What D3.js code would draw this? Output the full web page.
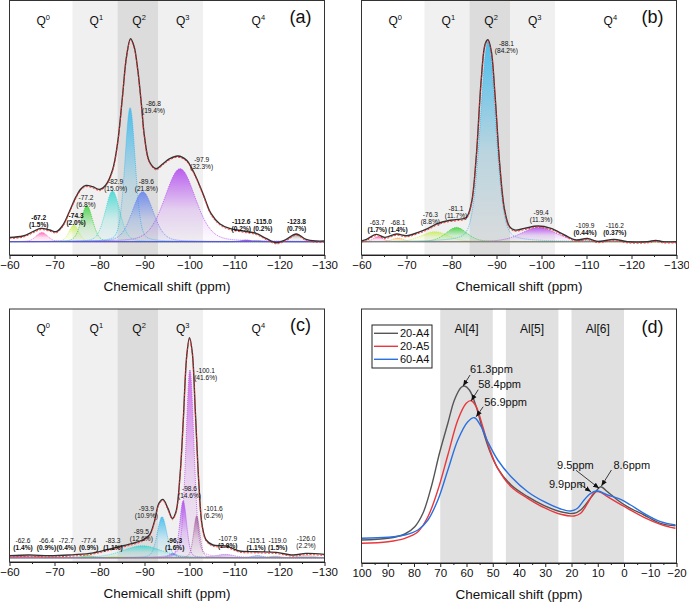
<!DOCTYPE html>
<html><head><meta charset="utf-8">
<script src="https://cdn.jsdelivr.net/npm/d3@7"></script>
<style>body{margin:0;background:#fff}svg{display:block}</style>
</head><body><svg id="c" width="689" height="603"></svg>
<script>
// ---------------- DATA ----------------
const qNames = ["0","1","2","3","4"];
const qCenters = [-67.5,-79.3,-88.8,-98.5,-115.3];
const qBandFrom = [-74,-84,-93];
const qBandTo = [-84,-93,-103];
const nmrMajorTicks = [-60,-70,-80,-90,-100,-110,-120,-130];
const nmrMinorTicks = [-65,-75,-85,-95,-105,-115,-125];

// panel (a)
const aShift = [-60,-63,-65.2,-67,-68.9,-70.4,-71.9,-73.3,-74.8,-75.9,-77,-78.5,-80,-81.4,-82.9,-84,-85.1,-86,-86.9,-87.7,-88.5,-89.3,-90,-91.1,-92.6,-94.1,-95.6,-97.4,-99.3,-101.1,-103,-104.8,-106.7,-108.9,-111.9,-114.8,-117,-119.3,-121.5,-123.7,-125.9,-128.1,-130];
const aInt = [4.3,5.7,10,13.3,11.7,10,16.7,30,45,53,56.3,55,52.3,56.7,71.7,98,145,185,203,195,172,138,105,80,73,78,83,85.7,81.7,68,48,28,18,13.3,10.7,8.3,3.3,-1,2.3,7.7,2.3,0.7,0.7];
const aPeakShift = [-67.2,-74.3,-77.2,-82.9,-86.8,-89.6,-97.9,-112.6,-115.0,-123.8];
const aPeakHeight = [9.3,16.7,36,50.7,134,50,73,1.7,1.3,7.7];
const aPeakFwhm = [3,2.5,3,3.8,2.7,5.5,8,2.5,2.5,3];
const aPeakPct = ["1.5%","2.0%","6.8%","15.0%","19.4%","21.8%","32.3%","0.2%","0.2%","0.7%"];

// panel (b)
const bShift = [-60,-61.1,-63.3,-65.2,-67.8,-70,-72.6,-74.8,-77,-79.2,-81.4,-83.3,-84.4,-85.5,-86.6,-87.5,-88.1,-88.8,-89.7,-90.7,-91.8,-92.9,-94,-96.2,-99.2,-102.1,-105.1,-107.7,-110.2,-112.4,-116.1,-119.1,-123.5,-125.4,-127,-130];
const bInt = [0.7,2.3,7.3,4.3,7.7,6,9.3,13.3,18.3,21,22.3,24.3,38,85,161.7,198,202,191.7,145,78.3,31.7,15,11.7,13.3,15.7,13.3,6.7,1.7,3.3,0.3,2.3,0,0,1.3,0,0];
const bPeakShift = [-63.7,-68.1,-76.3,-81.1,-88.1,-99.4,-109.9,-116.2,-125.5];
const bPeakHeight = [5,3.7,10,14.3,200,14.3,2.7,2.3,1];
const bPeakFwhm = [2.5,3,7,5.5,4.0,9,2.5,2.5,1.5];
const bPeakPct = ["1.7%","1.4%","8.8%","11.7%","84.2%","11.3%","0.44%","0.37%",null];

// panel (c)
const cShift = [-60,-64.4,-68.9,-73.3,-77.8,-81.4,-84.4,-87.3,-89.6,-91.1,-92.2,-93.2,-94.1,-95.2,-96.2,-97,-97.9,-98.6,-99.4,-100,-100.6,-101.3,-102.1,-102.8,-103.7,-105.2,-108.1,-111.1,-114.8,-119.3,-123,-125.9,-130];
const cInt = [2,2.7,2,2.7,4.3,7.7,11,14.3,17.7,22.7,36,54.3,58.3,49.3,39.3,46,82.7,136,202.7,220,206,146,72.7,32.7,17.7,12.7,11.7,6.7,6,5.3,2.7,4.3,3.3];
const cPeakShift = [-62.6,-66.4,-72.7,-77.4,-83.3,-89.5,-93.9,-96.3,-98.6,-100.1,-101.6,-107.9,-115.1,-119.0,-126.0];
const cPeakHeight = [1.5,1.2,0.6,2,1.5,12,41,4.3,57,188,42,3.3,2,1.5,2];
const cPeakFwhm = [4,4,3,3,4,10,2.5,2,1.8,2.1,1.6,5,3,3,4];
const cPeakPct = ["1.4%","0.9%","0.4%","0.9%","1.1%","12.6%","10.9%","1.6%","14.6%","41.6%","6.2%","2.9%","1.1%","1.5%","2.2%"];

// panel (d)
const dMajorTicks = [100,90,80,70,60,50,40,30,20,10,0,-10,-20];
const dMinorTicks = [95,85,75,65,55,45,35,25,15,5,-5,-15];
const dBandFrom = [70,45,20];
const dBandTo = [50,25,0];
const dBandNames = ["Al[4]","Al[5]","Al[6]"];
const dBandCenters = [60,35,10];
const seriesNames = ["20-A4","20-A5","60-A4"];
const a4Shift = [100,89.9,83.5,79.7,76.6,73.4,70.3,67.1,64.6,62,60.8,58.9,56.3,53.8,51.3,48.1,43,36.7,30.4,24.1,19,16.5,13.3,10.8,8.9,6.3,2.5,-1.3,-7.6,-13.9,-19.6];
const a4Int = [23,24.7,29,36.3,49.7,76.3,109.7,139.7,163,175.7,177,173,156.3,133,113,94.7,78,66.3,57.3,51.3,49.7,53,63,71.3,76.3,71.3,63,56.3,48,39.7,37.3];
const a5Shift = [100,89.9,83.5,78.5,74.7,70.9,67.1,63.3,60.1,58.2,56.3,53.8,51.3,48.1,43,36.7,30.4,24.1,19,16.5,13.9,11.4,9.5,6.3,2.5,-1.3,-7.6,-13.9,-19.6];
const a5Int = [19.7,21.3,24.7,31.3,46.3,73,108,143,159.7,162.3,156.3,136.3,114.7,94.7,76.3,64.7,55.3,48.7,47,49.7,59.7,70.3,71.3,66.3,60.3,54.7,45.7,38.7,34.7];
const b4Shift = [100,89.9,83.5,78.5,74.7,70.9,67.1,63.3,59.5,57,54.4,51.9,48.1,43,36.7,30.4,24.1,20.3,17.7,15.2,12.7,10.1,6.3,1.3,-2.5,-7.6,-13.9,-19.6];
const b4Int = [24.7,25.7,28,33,43,63,93,123,141.3,145.3,136.3,121.3,103,86.3,71.3,61.3,54,52,54.7,63,69.7,72,68,63.7,58,49.7,41.3,38];
const annText = ["61.3ppm","58.4ppm","56.9ppm","9.5ppm","9.9ppm","8.6ppm"];
const annShift = [61.3,58.2,56.3,9.5,12.6,8.6];
const annInt = [177,162.3,146.3,74.7,71.3,77];

// ---------------- STYLE / LAYOUT ----------------
const FONT = '"Liberation Sans", Arial, Helvetica, sans-serif';
const aColors = ["#ff5ab4","#c8ee50","#35d035","#3ad6d0","#35b8ee","#5f7ff0","#b045ee","#8a10c0","#909090","#8c8c8c"];
const bColors = ["#ff5ab4","#ffb050","#c8ee50","#35d035","#35b8ee","#b045ee","#8c8c8c","#7a5a7a","#4060d0"];
const cColors = ["#ff2aa0","#ff3535","#ffa030","#35d035","#c8ee50","#3ad6d0","#35b8ee","#5f7ff0","#a845ee","#c856e8","#a05898","#b078e0","#5080e0","#909090","#a0a0a0"];
const seriesColors = ["#555555","#e8383d","#2a70e0"];
// label anchors (ppm, intensity) and boldness per panel
const aLab = [[-66.5,24.2,2],[-74.8,25.7,2],[-77,44.4,0],[-83.6,60,0],[-92,138.4,0],[-90.4,60,0],[-102.7,81.7,0],[-111.5,19.7,2],[-116.3,19.7,2],[-123.8,19.7,2]];
const bLab = [[-63.5,19,1],[-68.1,19,1],[-75.3,27.4,0],[-81,32.7,0],[-92.2,198.4,0],[-99.9,29,0],[-109.7,15.7,1],[-116.3,15.7,1]];
const cLab = [[-63,17,1],[-68.2,17,1],[-72.6,17,1],[-77.6,17,1],[-83,17,1],[-89.3,26,0],[-90.4,49.4,0],[-96.7,17,2],[-100,68.7,0],[-103.6,187,0],[-105.3,49.4,0],[-108.5,18.7,1],[-114.8,17,1],[-119.6,17,1],[-125.9,19.4,0]];
const annLayout = [[7,-11,7,-17],[7,-11,7,-17],[7,-10,8,-15],[-23,-18,-42,-23],[-12,-8,-42,-8],[10,-16,12,-21]];

const svg = d3.select("#c");
const defs = svg.append("defs");
defs.append("marker").attr("id","arr").attr("viewBox","0 0 6 6").attr("refX",6).attr("refY",3)
  .attr("markerWidth",6).attr("markerHeight",6).attr("markerUnits","userSpaceOnUse").attr("orient","auto")
  .append("path").attr("d","M0,0.5L6,3L0,5.5Z").attr("fill","#111");

function pv(x,c,h,w){ const u=(x-c)/(w/2); return h*(0.25/(1+u*u)+0.75*Math.exp(-Math.LN2*u*u)); }

function drawAxis(g, x, y1, major, minor){
  const ax = g.append("g").attr("transform",`translate(0,${y1})`)
    .call(d3.axisBottom(x).tickValues(major).tickSize(4).tickPadding(2).tickSizeOuter(0));
  ax.select(".domain").attr("stroke","#222");
  ax.selectAll(".tick line").attr("stroke","#222");
  ax.selectAll("text").attr("font-family",FONT).attr("font-size",11.5).attr("fill","#111");
  const mi = g.append("g").attr("transform",`translate(0,${y1})`)
    .call(d3.axisBottom(x).tickValues(minor).tickSize(2).tickFormat(""));
  mi.select(".domain").remove();
  mi.selectAll(".tick line").attr("stroke","#222");
  g.append("text").attr("x",(x.range()[0]+x.range()[1])/2).attr("y",y1+36)
    .attr("text-anchor","middle").attr("font-family",FONT).attr("font-size",13.5).attr("fill","#111")
    .text("Chemicall shift (ppm)");
}

function nmrPanel(p){
  const x = d3.scaleLinear().domain([-60,-130]).range([p.x0,p.x1]);
  const y = d3.scaleLinear().domain(p.yDomain).range([p.y1,p.y0]);
  const g = svg.append("g");
  const cid = "clip"+p.tag;
  defs.append("clipPath").attr("id",cid).append("rect").attr("x",p.x0).attr("y",p.y0).attr("width",p.x1-p.x0).attr("height",p.y1-p.y0);
  const pg = g.append("g").attr("clip-path",`url(#${cid})`);
  qBandFrom.forEach((f,i)=>{
    pg.append("rect").attr("x",x(f)).attr("y",p.y0).attr("width",x(qBandTo[i])-x(f)).attr("height",p.y1-p.y0)
      .attr("fill", i===1 ? "#dcdcdc" : "#f0f0f0");
  });
  qCenters.forEach((c,i)=>{
    const t = pg.append("text").attr("x",x(c)).attr("y",p.y0+24).attr("text-anchor","middle")
      .attr("font-family",FONT).attr("font-size",12).attr("fill","#111");
    t.append("tspan").text("Q");
    t.append("tspan").attr("dy",-5).attr("font-size",7.5).text(qNames[i]);
  });
  const xs = d3.range(-60,-130.001,-0.1);
  // components
  p.pk.forEach((c,i)=>{
    const gid = `gr${p.tag}${i}`;
    const gr = defs.append("linearGradient").attr("id",gid).attr("x1",0).attr("y1",0).attr("x2",0).attr("y2",1);
    gr.append("stop").attr("offset",0).attr("stop-color",p.col[i]).attr("stop-opacity",0.85);
    gr.append("stop").attr("offset",0.55).attr("stop-color",p.col[i]).attr("stop-opacity",0.2);
    gr.append("stop").attr("offset",1).attr("stop-color",p.col[i]).attr("stop-opacity",0.02);
    const pts = xs.map(v=>[v,pv(v,c,p.ph[i],p.pw[i])]);
    const core = pts.filter(d=>Math.abs(d[0]-c)<p.pw[i]*1.6);
    pg.append("path").datum(core).attr("fill",`url(#${gid})`)
      .attr("d",d3.area().x(d=>x(d[0])).y0(y(0)).y1(d=>y(d[1])));
    pg.append("path").datum(pts).attr("fill","none").attr("stroke",p.col[i]).attr("stroke-width",0.8)
      .attr("stroke-dasharray","1,1").attr("d",d3.line().x(d=>x(d[0])).y(d=>y(d[1])));
  });
  pg.append("line").attr("x1",p.x0).attr("x2",p.x1).attr("y1",y(0)).attr("y2",y(0))
    .attr("stroke",p.baseCol).attr("stroke-width",1).attr("stroke-dasharray",p.baseDash);
  const data = p.sx.map((v,i)=>[v,p.si[i]]);
  const ln = d3.line().x(d=>x(d[0])).y(d=>y(d[1])).curve(d3.curveCatmullRom.alpha(0.5));
  pg.append("path").datum(data).attr("fill","none").attr("stroke","#333").attr("stroke-width",1.4).attr("d",ln);
  pg.append("path").datum(data).attr("fill","none").attr("stroke","#ff2a2a").attr("stroke-width",0.9)
    .attr("stroke-dasharray","2,1.5").attr("transform","translate(0,1.2)").attr("d",ln);
  // labels
  p.lab.forEach((L,i)=>{
    const tx = x(L[0]), ty = y(L[1]);
    g.append("text").attr("x",tx).attr("y",ty).attr("dy","0.35em").attr("text-anchor","middle")
      .attr("font-family",FONT).attr("font-size",6.6).attr("fill","#111")
      .attr("font-weight", L[2]===2 ? "bold":"normal").text(p.pk[i].toFixed(1));
    g.append("text").attr("x",tx).attr("y",ty+7).attr("dy","0.35em").attr("text-anchor","middle")
      .attr("font-family",FONT).attr("font-size",6.6).attr("fill","#111")
      .attr("font-weight", L[2]>=1 ? "bold":"normal").text("("+p.pct[i]+")");
  });
  g.append("text").attr("x",p.x1-24).attr("y",p.y0+22).attr("text-anchor","middle")
    .attr("font-family",FONT).attr("font-size",18).attr("fill","#111").text(p.name);
  g.append("rect").attr("x",p.x0).attr("y",p.y0).attr("width",p.x1-p.x0).attr("height",p.y1-p.y0)
    .attr("fill","none").attr("stroke","#333").attr("stroke-width",1);
  drawAxis(g,x,p.y1,nmrMajorTicks,nmrMinorTicks);
}

nmrPanel({tag:"a",name:"(a)",x0:9.5,x1:324.5,y0:0.5,y1:255,yDomain:[-13.3,241.2],sx:aShift,si:aInt,
  pk:aPeakShift,ph:aPeakHeight,pw:aPeakFwhm,pct:aPeakPct,col:aColors,lab:aLab,baseCol:"#4a50e0",baseDash:null});
nmrPanel({tag:"b",name:"(b)",x0:361.5,x1:676.5,y0:0.5,y1:255,yDomain:[-13.3,241.2],sx:bShift,si:bInt,
  pk:bPeakShift,ph:bPeakHeight,pw:bPeakFwhm,pct:bPeakPct,col:bColors,lab:bLab,baseCol:"#8a9a40",baseDash:"1,1"});
nmrPanel({tag:"c",name:"(c)",x0:9.5,x1:324.5,y0:309,y1:562,yDomain:[-4.3,248.7],sx:cShift,si:cInt,
  pk:cPeakShift,ph:cPeakHeight,pw:cPeakFwhm,pct:cPeakPct,col:cColors,lab:cLab,baseCol:"#888",baseDash:"1,1"});

// panel (d)
(function(){
  const x0=361.5,x1=676.5,y0=309,y1=563;
  const x = d3.scaleLinear().domain([100,-20]).range([x0,x1]);
  const y = d3.scaleLinear().domain([0,254]).range([y1,y0]);
  const g = svg.append("g");
  dBandFrom.forEach((f,i)=>{
    g.append("rect").attr("x",x(f)).attr("y",y0).attr("width",x(dBandTo[i])-x(f)).attr("height",y1-y0).attr("fill","#e0e0e0");
    g.append("text").attr("x",x(dBandCenters[i])).attr("y",y0+24).attr("text-anchor","middle")
      .attr("font-family",FONT).attr("font-size",12).attr("fill","#111").text(dBandNames[i]);
  });
  const ser = [[a4Shift,a4Int],[a5Shift,a5Int],[b4Shift,b4Int]];
  const ln = d3.line().x(d=>x(d[0])).y(d=>y(d[1])).curve(d3.curveCatmullRom.alpha(0.5));
  ser.forEach((s,i)=>{
    g.append("path").datum(s[0].map((v,j)=>[v,s[1][j]])).attr("fill","none")
      .attr("stroke",seriesColors[i]).attr("stroke-width",1.4).attr("d",ln);
  });
  annText.forEach((t,i)=>{
    const tx = x(annShift[i]), ty = y(annInt[i]);
    const L = annLayout[i];
    g.append("line").attr("x1",tx+L[0]).attr("y1",ty+L[1]).attr("x2",tx).attr("y2",ty)
      .attr("stroke","#111").attr("stroke-width",0.8).attr("marker-end","url(#arr)");
    g.append("text").attr("x",tx+L[2]).attr("y",ty+L[3]).attr("dy","0.35em")
      .attr("font-family",FONT).attr("font-size",11).attr("fill","#111").text(t);
  });
  // legend
  const lg = g.append("g");
  lg.append("rect").attr("x",372).attr("y",325).attr("width",60).attr("height",43)
    .attr("fill","#fff").attr("stroke","#222").attr("stroke-width",1);
  seriesNames.forEach((n,i)=>{
    const yy = 333.3 + i*13;
    lg.append("line").attr("x1",374).attr("x2",398).attr("y1",yy).attr("y2",yy).attr("stroke",seriesColors[i]).attr("stroke-width",1.4);
    lg.append("text").attr("x",400).attr("y",yy).attr("dy","0.35em").attr("font-family",FONT)
      .attr("font-size",11).attr("fill","#111").text(n);
  });
  g.append("text").attr("x",x1-24).attr("y",y0+24).attr("text-anchor","middle")
    .attr("font-family",FONT).attr("font-size",18).attr("fill","#111").text("(d)");
  g.append("rect").attr("x",x0).attr("y",y0).attr("width",x1-x0).attr("height",y1-y0)
    .attr("fill","none").attr("stroke","#333").attr("stroke-width",1);
  drawAxis(g,x,y1,dMajorTicks,dMinorTicks);
})();
</script></body></html>
